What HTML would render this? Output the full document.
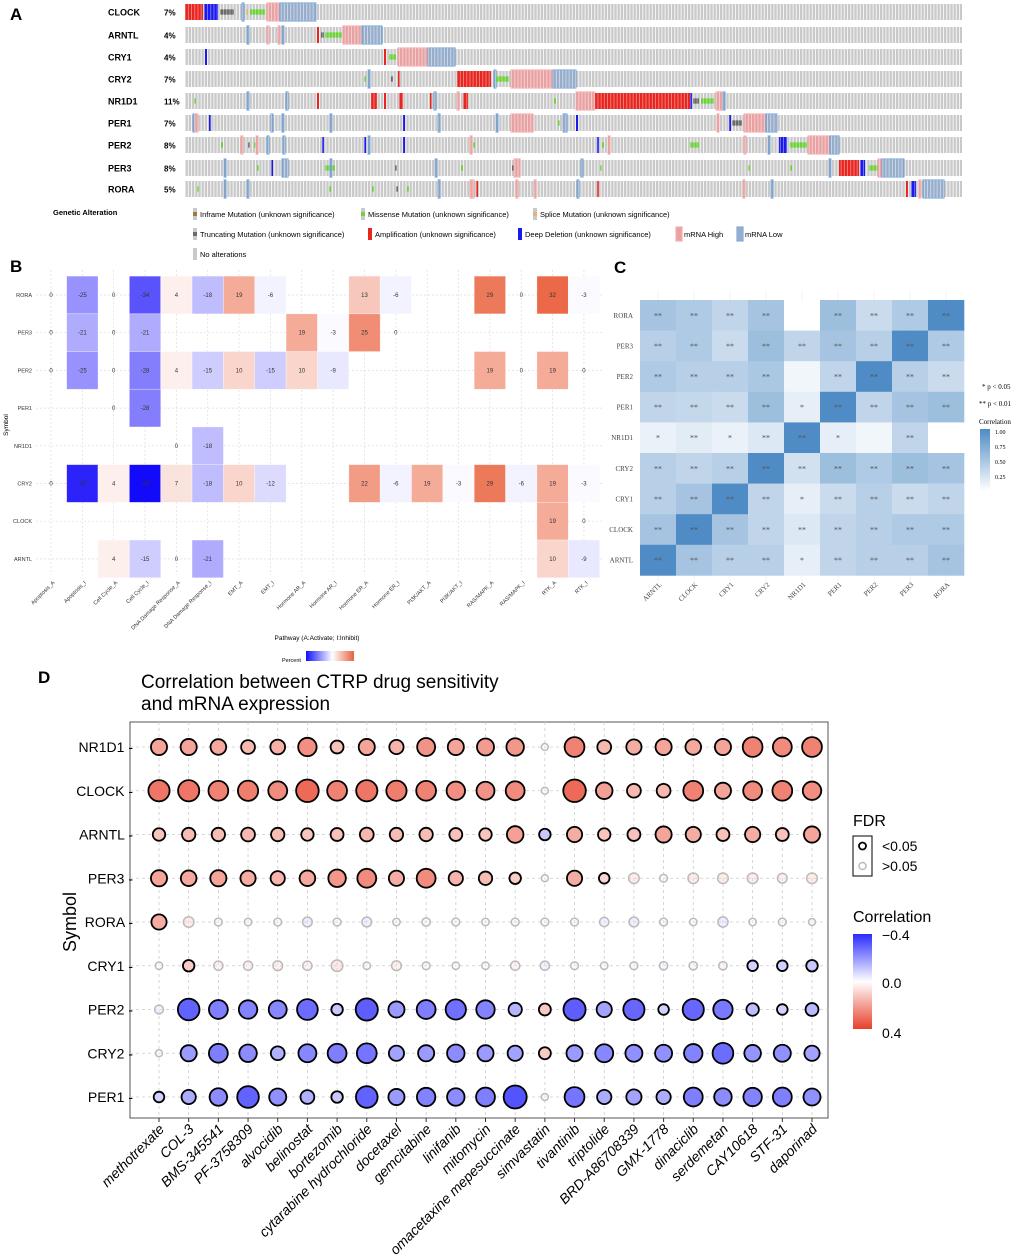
<!DOCTYPE html>
<html><head><meta charset="utf-8"><style>
body{margin:0;background:#fff;}
svg{display:block;font-family:"Liberation Sans",sans-serif;}
</style></head><body>
<svg id="s" width="1020" height="1258" viewBox="0 0 1020 1258" xmlns="http://www.w3.org/2000/svg">
<defs>
<pattern id="samp" width="3.2" height="10" patternUnits="userSpaceOnUse"><rect width="2.3" height="10" fill="#c9c9c9"/><rect x="2.3" width="0.9" height="10" fill="#eee"/></pattern>
<pattern id="sep" width="3.2" height="10" patternUnits="userSpaceOnUse"><rect x="2.4" width="0.7" height="10" fill="rgba(255,255,255,0.55)"/></pattern>
<linearGradient id="gD" x1="0" y1="0" x2="0" y2="1"><stop offset="0" stop-color="#2b2bff"/><stop offset="0.5" stop-color="#ffffff"/><stop offset="1" stop-color="#e8402a"/></linearGradient>
<linearGradient id="gC" x1="0" y1="0" x2="0" y2="1"><stop offset="0" stop-color="#4f8bc4"/><stop offset="1" stop-color="#ffffff"/></linearGradient>
<linearGradient id="gB" x1="0" y1="0" x2="1" y2="0"><stop offset="0" stop-color="#1010ff"/><stop offset="0.55" stop-color="#ffffff"/><stop offset="1" stop-color="#e8603c"/></linearGradient>
</defs>
<g id="A"></g>
<g id="B"></g>
<g id="C"></g>
<g id="D"></g>
</svg>
<script>
// ---------- Panel A data ----------
const genesA=["CLOCK","ARNTL","CRY1","CRY2","NR1D1","PER1","PER2","PER3","RORA"];
const pctA=["7%","4%","4%","7%","11%","7%","8%","8%","5%"];
const eventsA=[
[[185,203,"amp"],[204,218,"del"],[220,234,"trunc"],[242,244,"mlow"],[246,248,"splice"],[250,265,"mis"],[267,280,"mhigh"],[280,316,"mlow"]],
[[247,249,"mlow"],[267,269,"mhigh"],[278,280,"mhigh"],[282,284,"mlow"],[317,319,"amp"],[321,324,"trunc"],[325,342,"mis"],[343,362,"mhigh"],[362,382,"mlow"]],
[[205,207,"del"],[384,386,"amp"],[389,396,"mis"],[398,428,"mhigh"],[428,455,"mlow"]],
[[364,366,"mis"],[368,370,"mlow"],[391,393,"trunc"],[398,400,"amp"],[457,491,"amp"],[494,496,"mlow"],[496,509,"mis"],[511,553,"mhigh"],[553,576,"mlow"]],
[[194,196,"mis"],[247,249,"mlow"],[286,288,"mlow"],[317,319,"amp"],[371,377,"amp"],[384,386,"amp"],[399,403,"amp"],[430,432,"amp"],[434,436,"mlow"],[457,459,"mhigh"],[463,468,"amp"],[554,556,"mis"],[576,595,"mhigh"],[595,690,"amp"],[690,692,"del"],[693,699,"trunc"],[701,714,"mis"],[716,722,"mhigh"],[723,725,"mlow"]],
[[193,195,"mlow"],[195,198,"mhigh"],[209,211,"del"],[271,273,"mlow"],[282,284,"mlow"],[330,332,"mlow"],[403,405,"del"],[438,440,"mlow"],[496,498,"mlow"],[511,533,"mhigh"],[558,560,"mis"],[563,567,"mlow"],[576,578,"del"],[717,719,"mhigh"],[729,731,"del"],[732,742,"trunc"],[744,766,"mhigh"],[766,777,"mlow"]],
[[221,223,"mis"],[241,243,"mhigh"],[248,250,"trunc"],[254,256,"mis"],[256,258,"mhigh"],[267,269,"mlow"],[283,285,"mlow"],[322,324,"del"],[364,366,"del"],[368,370,"mlow"],[403,405,"del"],[470,472,"mhigh"],[473,475,"mis"],[597,599,"del"],[602,604,"mis"],[608,610,"mhigh"],[690,699,"mis"],[744,746,"mhigh"],[768,770,"mlow"],[779,787,"del"],[790,807,"mis"],[808,830,"mhigh"],[830,839,"mlow"]],
[[224,226,"mlow"],[257,259,"mis"],[271,273,"del"],[282,288,"mlow"],[325,335,"mis"],[330,332,"mlow"],[395,397,"trunc"],[435,437,"mlow"],[461,463,"mis"],[512,514,"trunc"],[514,520,"mhigh"],[581,583,"mlow"],[600,602,"mis"],[748,750,"mis"],[790,792,"mis"],[829,831,"mlow"],[839,859,"amp"],[860,865,"del"],[869,878,"mis"],[878,881,"mhigh"],[882,904,"mlow"]],
[[197,199,"mis"],[224,226,"mlow"],[247,249,"mlow"],[329,331,"mis"],[372,374,"mis"],[396,398,"trunc"],[407,409,"mis"],[438,440,"mlow"],[470,474,"mhigh"],[476,478,"amp"],[516,518,"mhigh"],[534,536,"mhigh"],[577,579,"mlow"],[597,599,"amp"],[743,745,"mhigh"],[771,773,"mlow"],[906,908,"amp"],[911,916,"del"],[919,921,"mhigh"],[923,944,"mlow"]]
];
// ---------- Panel B data ----------
const rowsB=["RORA","PER3","PER2","PER1","NR1D1","CRY2","CLOCK","ARNTL"];
const colsB=["Apoptosis_A","Apoptosis_I","Cell Cycle_A","Cell Cycle_I","DNA Damage Response_A","DNA Damage Response_I","EMT_A","EMT_I","Hormone AR_A","Hormone AR_I","Hormone ER_A","Hormone ER_I","PI3K/AKT_A","PI3K/AKT_I","RAS/MAPK_A","RAS/MAPK_I","RTK_A","RTK_I"];
const N=null;
const valsB=[
[0,-25,0,-34,4,-18,19,-6,N,N,13,-6,N,N,29,0,32,-3],
[0,-21,0,-21,N,N,N,N,19,-3,25,0,N,N,N,N,N,N],
[0,-25,0,-28,4,-15,10,-15,10,-9,N,N,N,N,19,0,19,0],
[N,N,0,-28,N,N,N,N,N,N,N,N,N,N,N,N,N,N],
[N,N,N,N,0,-18,N,N,N,N,N,N,N,N,N,N,N,N],
[0,-40,4,-43,7,-18,10,-12,N,N,22,-6,19,-3,29,-6,19,-3],
[N,N,N,N,N,N,N,N,N,N,N,N,N,N,N,N,19,0],
[N,N,4,-15,0,-21,N,N,N,N,N,N,N,N,N,N,10,-9]
];
// ---------- Panel C data ----------
const rowsC=["RORA","PER3","PER2","PER1","NR1D1","CRY2","CRY1","CLOCK","ARNTL"];
const colsC=["ARNTL","CLOCK","CRY1","CRY2","NR1D1","PER1","PER2","PER3","RORA"];
const valsC=[
[0.45,0.40,0.30,0.45,0.00,0.50,0.25,0.40,1.00],
[0.35,0.40,0.25,0.50,0.30,0.45,0.35,1.00,0.40],
[0.40,0.35,0.35,0.42,0.05,0.30,1.00,0.35,0.25],
[0.30,0.28,0.25,0.50,0.10,1.00,0.30,0.45,0.50],
[0.08,0.12,0.08,0.15,1.00,0.10,0.05,0.30,0.00],
[0.35,0.30,0.35,1.00,0.20,0.50,0.40,0.50,0.45],
[0.35,0.45,1.00,0.30,0.10,0.25,0.35,0.25,0.30],
[0.45,1.00,0.45,0.30,0.15,0.30,0.35,0.40,0.40],
[1.00,0.45,0.35,0.35,0.10,0.30,0.35,0.35,0.45]
];
const starsC=[
["**","**","**","**","","**","**","**","**"],
["**","**","**","**","**","**","**","**","**"],
["**","**","**","**","","**","**","**","**"],
["**","**","**","**","*","**","**","**","**"],
["*","**","*","**","**","*","","**",""],
["**","**","**","**","**","**","**","**","**"],
["**","**","**","**","*","**","**","**","**"],
["**","**","**","**","**","**","**","**","**"],
["**","**","**","**","*","**","**","**","**"]
];
// ---------- Panel D data ----------
const rowsD=["NR1D1","CLOCK","ARNTL","PER3","RORA","CRY1","PER2","CRY2","PER1"];
const drugsD=["methotrexate","COL-3","BMS-345541","PF-3758309","alvocidib","belinostat","bortezomib","cytarabine hydrochloride","docetaxel","gemcitabine","linifanib","mitomycin","omacetaxine mepesuccinate","simvastatin","tivantinib","triptolide","BRD-A86708339","GMX-1778","dinaciclib","serdemetan","CAY10618","STF-31","daporinad"];
const corrD=[
[.22,.22,.21,.17,.19,.27,.15,.22,.18,.26,.22,.24,.25,.02,.3,.17,.2,.22,.21,.22,.3,.28,.3],
[.33,.33,.3,.31,.28,.36,.3,.33,.31,.3,.27,.26,.28,.02,.36,.23,.17,.17,.3,.22,.28,.3,.27],
[.14,.16,.16,.17,.16,.14,.15,.17,.16,.16,.15,.14,.23,-.12,.2,.14,.15,.22,.2,.15,.2,.15,.22],
[.22,.21,.22,.2,.18,.21,.25,.28,.2,.28,.18,.16,.12,.02,.2,.1,.1,.04,.1,.1,.1,.08,.1],
[.2,.1,.04,.03,.04,-.08,.04,-.08,.03,.05,.04,.03,.04,.04,.04,-.07,-.08,.04,.03,-.09,.03,.04,.02],
[.03,.12,.07,.07,.08,.07,.12,.03,.08,.04,.03,.03,.07,-.07,.04,.03,.04,-.05,.05,.05,-.1,-.1,-.12],
[-.06,-.34,-.28,-.27,-.26,-.32,-.12,-.35,-.22,-.28,-.31,-.27,-.16,.13,-.35,-.2,-.33,-.1,-.33,-.29,-.14,-.1,-.15],
[.02,-.22,-.28,-.25,-.17,-.26,-.28,-.3,-.2,-.22,-.25,-.22,-.2,.13,-.22,-.26,-.24,-.24,-.27,-.32,-.23,-.24,-.2],
[-.1,-.18,-.25,-.34,-.24,-.17,-.12,-.34,-.22,-.27,-.25,-.28,-.37,.02,-.3,-.18,-.2,-.18,-.28,-.25,-.27,-.28,-.24]
];
const sigD=[
[1,1,1,1,1,1,1,1,1,1,1,1,1,0,1,1,1,1,1,1,1,1,1],
[1,1,1,1,1,1,1,1,1,1,1,1,1,0,1,1,1,1,1,1,1,1,1],
[1,1,1,1,1,1,1,1,1,1,1,1,1,1,1,1,1,1,1,1,1,1,1],
[1,1,1,1,1,1,1,1,1,1,1,1,1,0,1,1,0,0,0,0,0,0,0],
[1,0,0,0,0,0,0,0,0,0,0,0,0,0,0,0,0,0,0,0,0,0,0],
[0,1,0,0,0,0,0,0,0,0,0,0,0,0,0,0,0,0,0,0,1,1,1],
[0,1,1,1,1,1,1,1,1,1,1,1,1,1,1,1,1,1,1,1,1,1,1],
[0,1,1,1,1,1,1,1,1,1,1,1,1,1,1,1,1,1,1,1,1,1,1],
[1,1,1,1,1,1,1,1,1,1,1,1,1,0,1,1,1,1,1,1,1,1,1]
];

const NS="http://www.w3.org/2000/svg";
function mk(parent,tag,attrs,text){const e=document.createElementNS(NS,tag);for(const k in attrs)e.setAttribute(k,attrs[k]);if(text!==undefined)e.textContent=text;parent.appendChild(e);return e;}
function mix(a,b,t){return "rgb("+a.map((v,i)=>Math.round(v+(b[i]-v)*t)).join(",")+")";}
const svg=document.getElementById('s');

[["A",10,20],["B",10,272],["C",614,273],["D",38,683]].forEach(p=>{const t=mk(svg,'text',{x:p[1],y:p[2],'font-size':17,'font-weight':'bold'},p[0]);

});

// ---------- A ----------
(function(){
const g=document.getElementById('A');
const x0=185,x1=962,rowY=[12,35,57,79,101,123,145,168,189],h=16;
const col={amp:"#e8251f",del:"#1a1aee",mis:"#6ed33a",trunc:"#6a6a6a",splice:"#e7b07a",inframe:"#9c7a3c"};
genesA.forEach((gn,i)=>{
 const y=rowY[i]-h/2;
 const lab=mk(g,'text',{x:108,y:rowY[i]+3.5,'font-size':9,'font-weight':'bold'},gn);
 
 
 mk(g,'text',{x:164,y:rowY[i]+3.5,'font-size':8,'font-weight':'bold'},pctA[i]);
 const tr=mk(g,'rect',{x:x0,y:y,width:x1-x0,height:h,fill:'url(#samp)'});
 
 
 eventsA[i].forEach(ev=>{
  const [a,b,t]=ev;
  if(t==="mhigh") mk(g,'rect',{x:a,y:y-1,width:b-a,height:h+2,fill:'rgba(240,150,150,0.75)',stroke:'#f0a0a0','stroke-width':1});
  else if(t==="mlow") mk(g,'rect',{x:a,y:y-1,width:b-a,height:h+2,fill:'rgba(110,150,200,0.55)',stroke:'#6a9ad0','stroke-width':1});
  else if(t==="mis"||t==="trunc"||t==="splice") mk(g,'rect',{x:a,y:y+h/3,width:b-a,height:h/3,fill:col[t]});
  else mk(g,'rect',{x:a,y:y,width:b-a,height:h,fill:col[t]});
 });
 mk(g,'rect',{x:x0,y:y-1,width:x1-x0,height:h+2,fill:'url(#sep)'});
});
mk(g,'text',{x:53,y:215,'font-size':7.5,'font-weight':'bold'},"Genetic Alteration");
const leg=[[193,214,"inframe","Inframe Mutation (unknown significance)"],[361,214,"mis","Missense Mutation (unknown significance)"],[533,214,"splice","Splice Mutation (unknown significance)"],
[193,234,"trunc","Truncating Mutation (unknown significance)"],[368,234,"amp","Amplification (unknown significance)"],[518,234,"del","Deep Deletion (unknown significance)"],[677,234,"mhigh","mRNA High"],[738,234,"mlow","mRNA Low"],[193,254,"none","No alterations"]];
leg.forEach(l=>{
 const [x,y,t,s]=l;
 const lg=mk(g,'g',{});
 
 
 mk(lg,'rect',{x:x,y:y-6,width:4,height:12,fill:'#c9c9c9'});
 if(t==="mhigh") mk(lg,'rect',{x:x-1,y:y-7,width:6,height:14,fill:'rgba(240,150,150,0.75)',stroke:'#f0a0a0'});
 else if(t==="mlow") mk(lg,'rect',{x:x-1,y:y-7,width:6,height:14,fill:'rgba(110,150,200,0.55)',stroke:'#6a9ad0'});
 else if(t==="amp"||t==="del") mk(lg,'rect',{x:x,y:y-6,width:4,height:12,fill:col[t]});
 else if(t!=="none") mk(lg,'rect',{x:x,y:y-2,width:4,height:4,fill:col[t]});
 mk(lg,'text',{x:x+7,y:y+3,'font-size':7.5},s);
});
})();

// ---------- B ----------
(function(){
const g=document.getElementById('B');
const cx0=51,dx=31.35,ry0=295,dy=37.7;
const X=j=>cx0+j*dx, Y=i=>ry0+i*dy;
for(let j=0;j<colsB.length;j++) mk(g,'line',{x1:X(j),y1:270,x2:X(j),y2:575,stroke:'#ddd','stroke-dasharray':'2,2','stroke-width':0.7});
for(let i=0;i<rowsB.length;i++) mk(g,'line',{x1:36,y1:Y(i),x2:603,y2:Y(i),stroke:'#ddd','stroke-dasharray':'2,2','stroke-width':0.7});
const colorB=v=>v<0?mix([255,255,255],[20,10,250],Math.pow(Math.min(1,-v/43),1.5)):mix([255,255,255],[234,100,66],Math.pow(Math.min(1,v/33),1.1));
rowsB.forEach((r,i)=>{
 const lab=mk(g,'text',{x:32,y:Y(i)+2,'font-size':5.5,'text-anchor':'end',fill:'#333'},r);
 
 
 valsB[i].forEach((v,j)=>{
  if(v===null) return;
  if(v!==0){const c=mk(g,'rect',{x:X(j)-dx/2,y:Y(i)-dy/2,width:dx,height:dy,fill:colorB(v),stroke:'rgba(255,255,255,0.5)','stroke-width':0.6});
   
   }
  mk(g,'text',{x:X(j),y:Y(i)+2,'font-size':6,'text-anchor':'middle',fill:'#333'},String(v));
 });
});
colsB.forEach((c,j)=>{mk(g,'text',{x:X(j)+4,y:583,'font-size':5.5,'text-anchor':'end',fill:'#333',transform:`rotate(-45 ${X(j)+4} 583)`},c);});
mk(g,'text',{x:317,y:640,'font-size':6.5,'text-anchor':'middle'},"Pathway (A:Activate; I:Inhibit)");
mk(g,'text',{x:8,y:425,'font-size':6.5,'text-anchor':'middle',transform:'rotate(-90 8 425)'},"Symbol");
mk(g,'text',{x:282,y:662,'font-size':5.5},"Percent");
mk(g,'rect',{x:306,y:651,width:48,height:10,fill:'url(#gB)'});
})();

// ---------- C ----------
(function(){
const g=document.getElementById('C');
const x0=640,y0=300,cw=36,ch=30.6;
const serif='"Liberation Serif",serif';
for(let j=0;j<9;j++) mk(g,'line',{x1:x0+cw*(j+.5),y1:290,x2:x0+cw*(j+.5),y2:582,stroke:'#eee','stroke-width':0.7});
rowsC.forEach((r,i)=>{
 const lab=mk(g,'text',{x:633,y:y0+ch*(i+.5)+2.5,'font-size':7,'text-anchor':'end','font-family':serif,fill:'#444'},r);
 
 
 valsC[i].forEach((v,j)=>{
  const c=mk(g,'rect',{x:x0+cw*j,y:y0+ch*i,width:cw+0.3,height:ch+0.3,fill:mix([255,255,255],[79,139,196],Math.pow(v,0.85))});
  
  
  if(starsC[i][j]) mk(g,'text',{x:x0+cw*(j+.5),y:y0+ch*(i+.5)+3,'font-size':8,'text-anchor':'middle',fill:'#555','font-family':serif},starsC[i][j]);
 });
});
colsC.forEach((c,j)=>{const x=x0+cw*(j+.5)+4;mk(g,'text',{x:x,y:585,'font-size':7,'text-anchor':'end','font-family':serif,fill:'#444',transform:`rotate(-45 ${x} 585)`},c);});
mk(g,'text',{x:982,y:389,'font-size':7,'font-family':serif},"* p < 0.05");
mk(g,'text',{x:979,y:406,'font-size':7,'font-family':serif},"** p < 0.01");
mk(g,'text',{x:979,y:424,'font-size':7,'font-family':serif},"Correlation");
mk(g,'rect',{x:980,y:429,width:10,height:62,fill:'url(#gC)'});
[["1.00",432],["0.75",447],["0.50",462],["0.25",477]].forEach(t=>mk(g,'text',{x:995,y:t[1]+2,'font-size':6,'font-family':serif},t[0]));
})();

// ---------- D ----------
(function(){
const g=document.getElementById('D');
const px0=130,px1=828,py0=722,py1=1118;
const X=j=>159+j*(812-159)/22, Y=i=>747+i*43.75;
mk(g,'text',{x:141,y:688,'font-size':19},"Correlation between CTRP drug sensitivity");
mk(g,'text',{x:141,y:710,'font-size':19},"and mRNA expression");
const frame=mk(g,'rect',{x:px0,y:py0,width:px1-px0,height:py1-py0,fill:'#fff',stroke:'#555','stroke-width':1});


drugsD.forEach((d,j)=>mk(g,'line',{x1:X(j),y1:py0,x2:X(j),y2:py1,stroke:'#ccc','stroke-dasharray':'3,3','stroke-width':0.8}));
rowsD.forEach((r,i)=>{mk(g,'line',{x1:px0,y1:Y(i),x2:px1,y2:Y(i),stroke:'#ccc','stroke-dasharray':'3,3','stroke-width':0.8});
 const lab=mk(g,'text',{x:133,y:Y(i)+5,'font-size':14,'text-anchor':'end'},r+" -");
 
 
});
const colorD=v=>v<0?mix([255,255,255],[43,43,255],Math.min(1,-v/0.46)):mix([255,255,255],[232,64,42],Math.min(1,v/0.46));
rowsD.forEach((r,i)=>corrD[i].forEach((v,j)=>{
 const s=sigD[i][j];
 const rad=3+Math.abs(v)*23;
 const c=mk(g,'circle',{cx:X(j),cy:Y(i),r:rad,fill:colorD(v),'fill-opacity':s?1:0.45,stroke:s?'#000':'#bbb','stroke-width':s?1.8:1.5});
 
 
}));
drugsD.forEach((d,j)=>{
 mk(g,'line',{x1:X(j),y1:py1,x2:X(j),y2:py1+4,stroke:'#333'});
 const x=X(j)+6,y=1130;
 const t=mk(g,'text',{x:x,y:y,'font-size':14,'text-anchor':'end','font-style':'italic',transform:`rotate(-45 ${x} ${y})`},d);
 
 
});
mk(g,'text',{x:76,y:922,'font-size':18,'text-anchor':'middle',transform:'rotate(-90 76 922)'},"Symbol");
mk(g,'text',{x:853,y:826,'font-size':16},"FDR");
mk(g,'rect',{x:853,y:836,width:19,height:40,fill:'#fff',stroke:'#000','stroke-width':1});
mk(g,'circle',{cx:862.5,cy:846,r:3.5,fill:'none',stroke:'#000','stroke-width':1.8});
mk(g,'circle',{cx:862.5,cy:866,r:3.5,fill:'none',stroke:'#bbb','stroke-width':1.5});
mk(g,'text',{x:882,y:851,'font-size':14},"<0.05");
mk(g,'text',{x:882,y:871,'font-size':14},">0.05");
mk(g,'text',{x:853,y:922,'font-size':16},"Correlation");
const cb=mk(g,'rect',{x:853,y:934,width:19,height:95,fill:'url(#gD)'});


[["\u22120.4",940],["0.0",988],["0.4",1038]].forEach(t=>mk(g,'text',{x:882,y:t[1],'font-size':14},t[0]));
})();
</script>
</body></html>
